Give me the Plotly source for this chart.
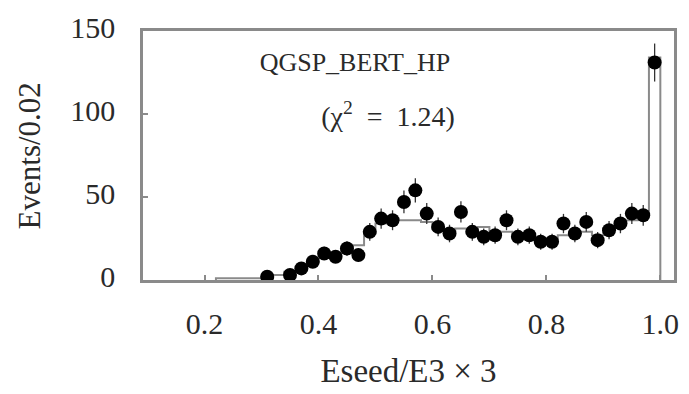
import numpy as np
import plotly.graph_objects as go

# Measured data: bin centres (width 0.02) and event counts (empty bins omitted)
data_x = [0.31, 0.35, 0.37, 0.39, 0.41, 0.43, 0.45, 0.47, 0.49,
          0.51, 0.53, 0.55, 0.57, 0.59, 0.61, 0.63, 0.65, 0.67, 0.69,
          0.71, 0.73, 0.75, 0.77, 0.79, 0.81, 0.83, 0.85, 0.87, 0.89,
          0.91, 0.93, 0.95, 0.97, 0.99]
data_y = [2, 3, 7, 11, 16, 14, 19, 15, 29,
          37, 36, 47, 54, 40, 32, 28, 41, 29, 26,
          27, 36, 26, 27, 23, 23, 34, 28, 35, 24,
          30, 34, 40, 39, 131]

# Simulation (QGSP_BERT_HP) histogram: lower bin edges and contents
mc_edges = [0.22, 0.24, 0.26, 0.28, 0.30, 0.32, 0.34, 0.36, 0.38, 0.40,
            0.42, 0.44, 0.46, 0.48, 0.50, 0.52, 0.54, 0.56, 0.58, 0.60,
            0.62, 0.64, 0.66, 0.68, 0.70, 0.72, 0.74, 0.76, 0.78, 0.80,
            0.82, 0.84, 0.86, 0.88, 0.90, 0.92, 0.94, 0.96, 0.98]
mc_y = [1, 1, 1, 1, 2, 3, 5, 8, 11, 14,
        16, 18, 21, 28, 34, 37, 36, 36, 35, 31,
        30, 31, 28, 32, 28, 29, 27, 26, 25, 25,
        27, 28, 29, 27, 31, 33, 36, 40, 134]

x_ticks = [0.2, 0.4, 0.6, 0.8, 1.0]
x_ticktext = ["0.2", "0.4", "0.6", "0.8", "1.0"]
y_ticks = [0, 50, 100, 150]

model_label = "QGSP_BERT_HP"
chi2_label = "(χ<sup>2</sup>\u2002=\u20021.24)"
x_title = "Eseed/E3 × 3"
y_title = "Events/0.02"

# step outline for the histogram, closed to zero at both ends
last_edge = round(mc_edges[-1] + 0.02, 2)
step_x = [mc_edges[0]] + mc_edges + [last_edge, last_edge]
step_y = [0] + mc_y + [mc_y[-1], 0]

FONT = "Liberation Serif"
INNER_FONT = "Times New Roman"
FRAME = "#8a8a8a"
TEXT = "#2a2a2a"

fig = go.Figure()
fig.add_trace(go.Scatter(
    x=step_x, y=step_y, mode="lines", line_shape="hv",
    line=dict(color=FRAME, width=2), hoverinfo="skip", showlegend=False))

fig.add_trace(go.Scatter(
    x=data_x, y=data_y, mode="markers",
    marker=dict(symbol="circle", size=14, color="black"),
    error_y=dict(type="data", array=list(np.sqrt(data_y)), color="#333",
                 thickness=1.3, width=0),
    showlegend=False))

# model name and fit quality, written inside the frame
fig.add_trace(go.Scatter(
    x=[0.464], y=[130], mode="text", text=[model_label],
    textposition="middle center",
    textfont=dict(family=INNER_FONT, size=26, color=TEXT),
    hoverinfo="skip", showlegend=False))
fig.add_trace(go.Scatter(
    x=[0.522], y=[97], mode="text", text=[chi2_label],
    textposition="middle center",
    textfont=dict(family=INNER_FONT, size=28, color=TEXT),
    hoverinfo="skip", showlegend=False))

# vertical axis title
fig.add_annotation(x=-0.213, y=0.5, xref="paper", yref="paper",
                   text=y_title, textangle=-90, showarrow=False,
                   xanchor="center", yanchor="middle",
                   font=dict(family=FONT, size=31, color=TEXT))

fig.update_layout(
    width=689, height=394,
    margin=dict(l=143, r=10, t=23, b=114),
    paper_bgcolor="white", plot_bgcolor="white",
    font=dict(family=FONT, size=26, color=TEXT),
    xaxis=dict(range=[0.092, 1.024], tickvals=x_ticks, ticktext=x_ticktext,
               ticks="inside", ticklen=5, tickcolor=FRAME, tickwidth=1.5,
               showline=True, linecolor=FRAME, linewidth=2.5, mirror=True,
               showgrid=False, zeroline=False,
               tickfont=dict(family=FONT, size=30, color=TEXT),
               ticklabelstandoff=15,
               title=dict(text=x_title, standoff=21,
                          font=dict(family=FONT, size=33, color=TEXT))),
    yaxis=dict(range=[0, 150], tickvals=y_ticks,
               ticks="inside", ticklen=5, tickcolor=FRAME, tickwidth=1.5,
               showline=True, linecolor=FRAME, linewidth=2.5, mirror=True,
               showgrid=False, zeroline=False,
               tickfont=dict(family=FONT, size=30, color=TEXT),
               ticklabelstandoff=19, ticklabelshift=-4),
)

fig.write_html("out.html")
